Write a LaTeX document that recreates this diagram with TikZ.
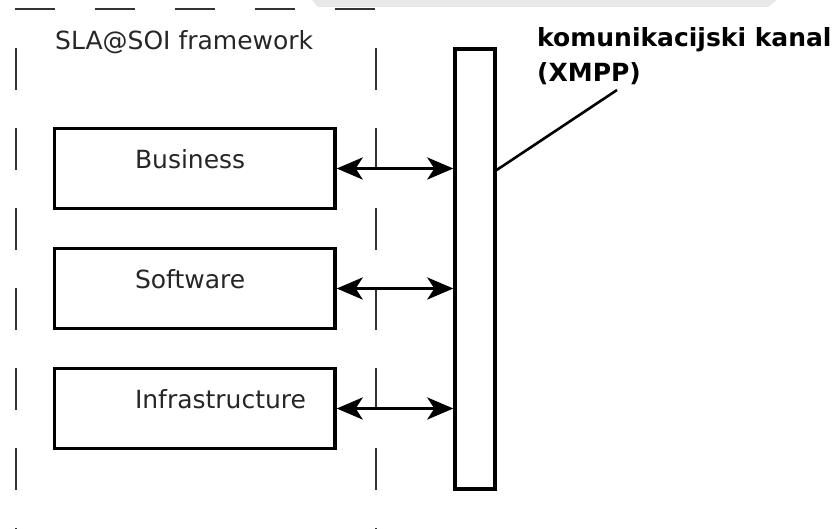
\documentclass[tikz,border=0pt]{standalone}
\usepackage{fontspec}
\setmainfont{DejaVu Sans}
\usepackage{tikz}
\usetikzlibrary{arrows.meta}
\tikzset{>=Stealth}
\usetikzlibrary{positioning,calc}
\tikzset{
    layer/.style={draw,line width=3.4pt,minimum width=280.5pt,minimum height=80pt,inner sep=0pt},
    lbl/.style={font=\fontsize{25}{30}\selectfont,text=black!85,inner sep=0pt},
    frame/.style={draw=black!80,line width=2.4pt},
    link/.style={<->,line width=3.2pt,>={Stealth[length=26pt,width=22pt,inset=7pt]}}
}

\begin{document}
\begin{tikzpicture}[x=1pt,y=-1pt]
    \useasboundingbox (0,0) rectangle (837,529);
    \fill[black!9] (312,0) -- (318,7) -- (768,7) -- (777,0) -- cycle;
    % dashed frame
    \draw[frame,dash pattern=on 40pt off 40pt] (15,9) -- (376,9);
    \draw[frame,dash pattern=on 42pt off 38pt] (16,48) -- (16,540);
    \draw[frame,dash pattern=on 42pt off 38pt] (376,48) -- (376,540);
    \node[lbl,anchor=base west] at (55,50) (fw) {SLA@SOI framework};
    \node[layer] at (194.75,168.5) (biz) {};
    \node[layer] at (194.75,288.5) (sw) {};
    \node[layer] at (194.75,408.5) (infra) {};
    \node[lbl,anchor=base west] at ([xshift=82pt,yshift=-42pt]biz.north west) (bizlbl) {Business};
    \node[lbl,anchor=base west] at ([xshift=82pt,yshift=-42pt]sw.north west) (swlbl) {Software};
    \node[lbl,anchor=base west] at ([xshift=82pt,yshift=-42pt]infra.north west) (infralbl) {Infrastructure};
    \node[draw,line width=3.4pt,minimum width=40pt,minimum height=440pt,inner sep=0pt] at (475,269) (bus) {};
    \draw[link] (biz.east) -- (biz.east -| bus.west);
    \draw[link] (sw.east) -- (sw.east -| bus.west);
    \draw[link] (infra.east) -- (infra.east -| bus.west);
    \node[lbl,text=black,font=\fontsize{25}{30}\selectfont\bfseries,anchor=base west] at (537,47) (kanal) {komunikacijski kanal};
    \node[lbl,text=black,font=\fontsize{25}{30}\selectfont\bfseries,anchor=base west] at ([yshift=-35pt]kanal.base west) (xmpp) {(XMPP)};
    \coordinate (tip) at (617,90);
    \draw[line width=2.6pt] ([yshift=-1.5pt]bus.east |- biz.east) -- (tip);
\end{tikzpicture}
\end{document}
